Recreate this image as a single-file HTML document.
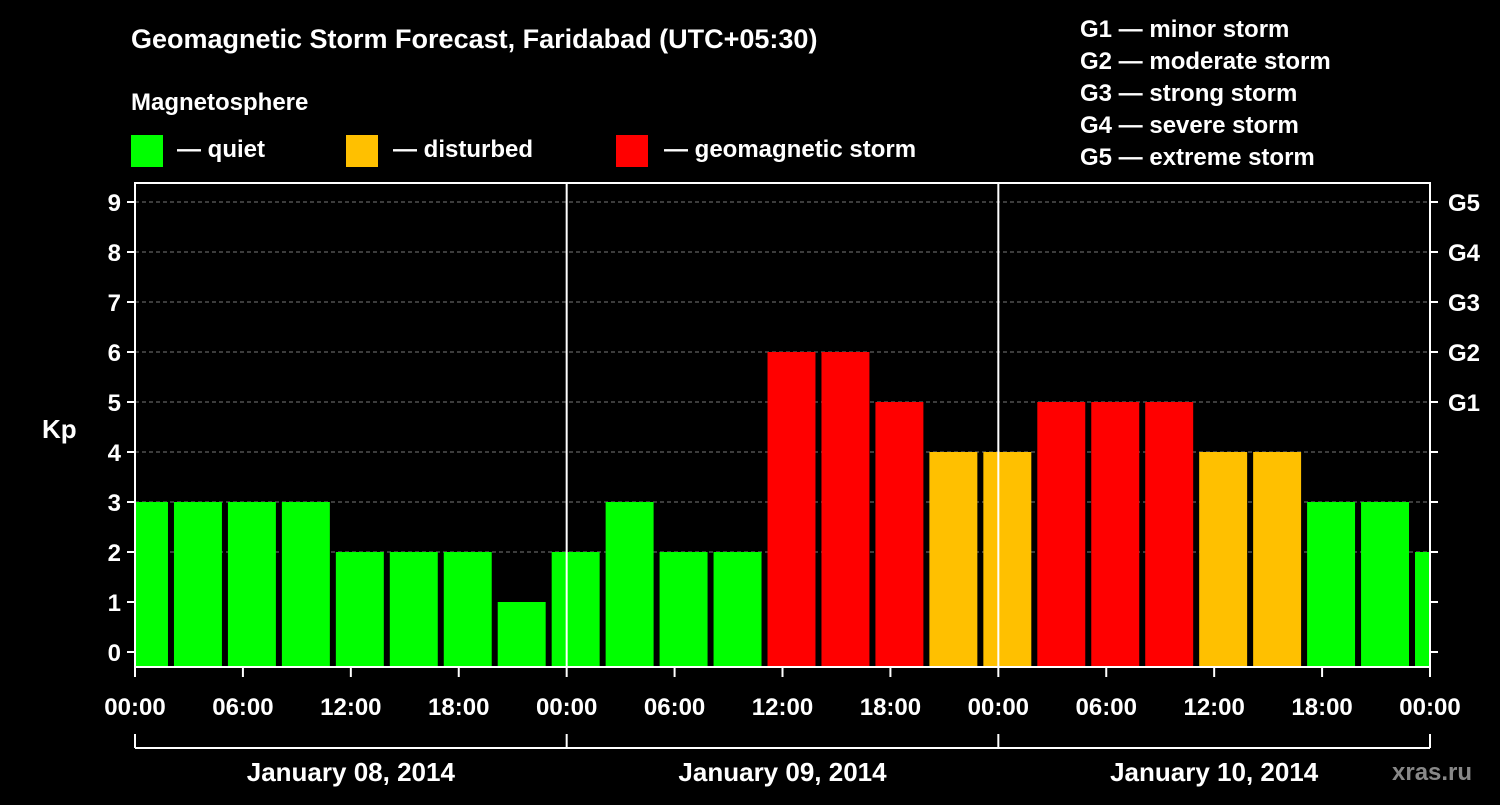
<!DOCTYPE html>
<html><head><meta charset="utf-8"><style>
body{margin:0;background:#000;width:1500px;height:800px;overflow:hidden}
svg text{font-family:"Liberation Sans",sans-serif;font-weight:bold;fill:#fff}
</style></head><body>
<svg id="c" width="1500" height="800">
<text x="131" y="48" font-size="27">Geomagnetic Storm Forecast, Faridabad (UTC+05:30)</text>
<text x="131" y="110" font-size="24">Magnetosphere</text>
<rect x="131" y="135" width="32" height="32" fill="#00ff00"/>
<text x="177" y="157" font-size="24">— quiet</text>
<rect x="346" y="135" width="32" height="32" fill="#ffc000"/>
<text x="393" y="157" font-size="24">— disturbed</text>
<rect x="616" y="135" width="32" height="32" fill="#ff0000"/>
<text x="664" y="157" font-size="24">— geomagnetic storm</text>
<g font-size="24">
<text x="1080" y="37">G1 — minor storm</text>
<text x="1080" y="69">G2 — moderate storm</text>
<text x="1080" y="101">G3 — strong storm</text>
<text x="1080" y="133">G4 — severe storm</text>
<text x="1080" y="165">G5 — extreme storm</text>
</g>
<text x="42" y="438" font-size="26">Kp</text>
<text x="1392" y="780" font-size="24" fill="#888" style="fill:#888">xras.ru</text>
<g id="g"></g>
</svg>
<script>
const kpValues=[3,3,3,3,2,2,2,1,2,3,2,2,6,6,5,4,4,5,5,5,4,4,3,3,2];
const xTickLabels=["00:00","06:00","12:00","18:00","00:00","06:00","12:00","18:00","00:00","06:00","12:00","18:00","00:00"];
const dayLabels=["January 08, 2014","January 09, 2014","January 10, 2014"];
const gLabels=["G1","G2","G3","G4","G5"];
const X0=135,X1=1430,Y0=183,Y1=667;
const xs=h=>X0+h*(X1-X0)/72;
const ys=k=>652-k*50;
const NS="http://www.w3.org/2000/svg";
const g=document.getElementById('g');
function mk(t,a,txt){const e=document.createElementNS(NS,t);for(const k in a)e.setAttribute(k,a[k]);if(txt!=null)e.textContent=txt;g.appendChild(e);return e;}
const cp=mk('clipPath',{id:'pc'});const cr=document.createElementNS(NS,'rect');
cr.setAttribute('x',X0+1);cr.setAttribute('y',Y0);cr.setAttribute('width',X1-X0-1);cr.setAttribute('height',Y1-Y0);cp.appendChild(cr);
for(let k=2;k<=9;k++){const l=mk('line',{x1:X0,x2:X1,y1:ys(k),y2:ys(k),stroke:'#777','stroke-dasharray':'4,3'});

}
kpValues.forEach((v,i)=>{const c=0.5+3*i;const x=xs(c-4/3);const w=xs(c+4/3)-x;
const col=v>=5?'#ff0000':v>=4?'#ffc000':'#00ff00';
const r=mk('rect',{x:x,y:ys(v),width:w,height:Y1-ys(v),fill:col,'clip-path':'url(#pc)'});

});
[24,48].forEach(h=>{const l=mk('line',{x1:xs(h),x2:xs(h),y1:Y0,y2:Y1,stroke:'#fff','stroke-width':2});

});
const f=mk('rect',{x:X0,y:Y0,width:X1-X0,height:Y1-Y0,fill:'none',stroke:'#fff','stroke-width':2});


for(let k=0;k<=9;k++){mk('line',{x1:X0-8,x2:X0,y1:ys(k),y2:ys(k),stroke:'#fff','stroke-width':2});
mk('line',{x1:X1,x2:X1+8,y1:ys(k),y2:ys(k),stroke:'#fff','stroke-width':2});
const t=mk('text',{x:X0-14,y:ys(k)+9,'font-size':24,'text-anchor':'end'},k);

}
gLabels.forEach((s,i)=>{const t=mk('text',{x:1448,y:ys(5+i)+9,'font-size':24},s);

});
xTickLabels.forEach((s,i)=>{const x=xs(i*6);mk('line',{x1:x,x2:x,y1:Y1,y2:Y1+10,stroke:'#fff','stroke-width':2});
const t=mk('text',{x:x,y:715,'font-size':24,'text-anchor':'middle'},s);

});
mk('line',{x1:X0,x2:X1,y1:748,y2:748,stroke:'#fff','stroke-width':2});
[0,24,48,72].forEach(h=>mk('line',{x1:xs(h),x2:xs(h),y1:734,y2:748,stroke:'#fff','stroke-width':2}));
dayLabels.forEach((s,i)=>{const t=mk('text',{x:xs(12+24*i),y:781,'font-size':26,'text-anchor':'middle'},s);

});
</script>
</body></html>
